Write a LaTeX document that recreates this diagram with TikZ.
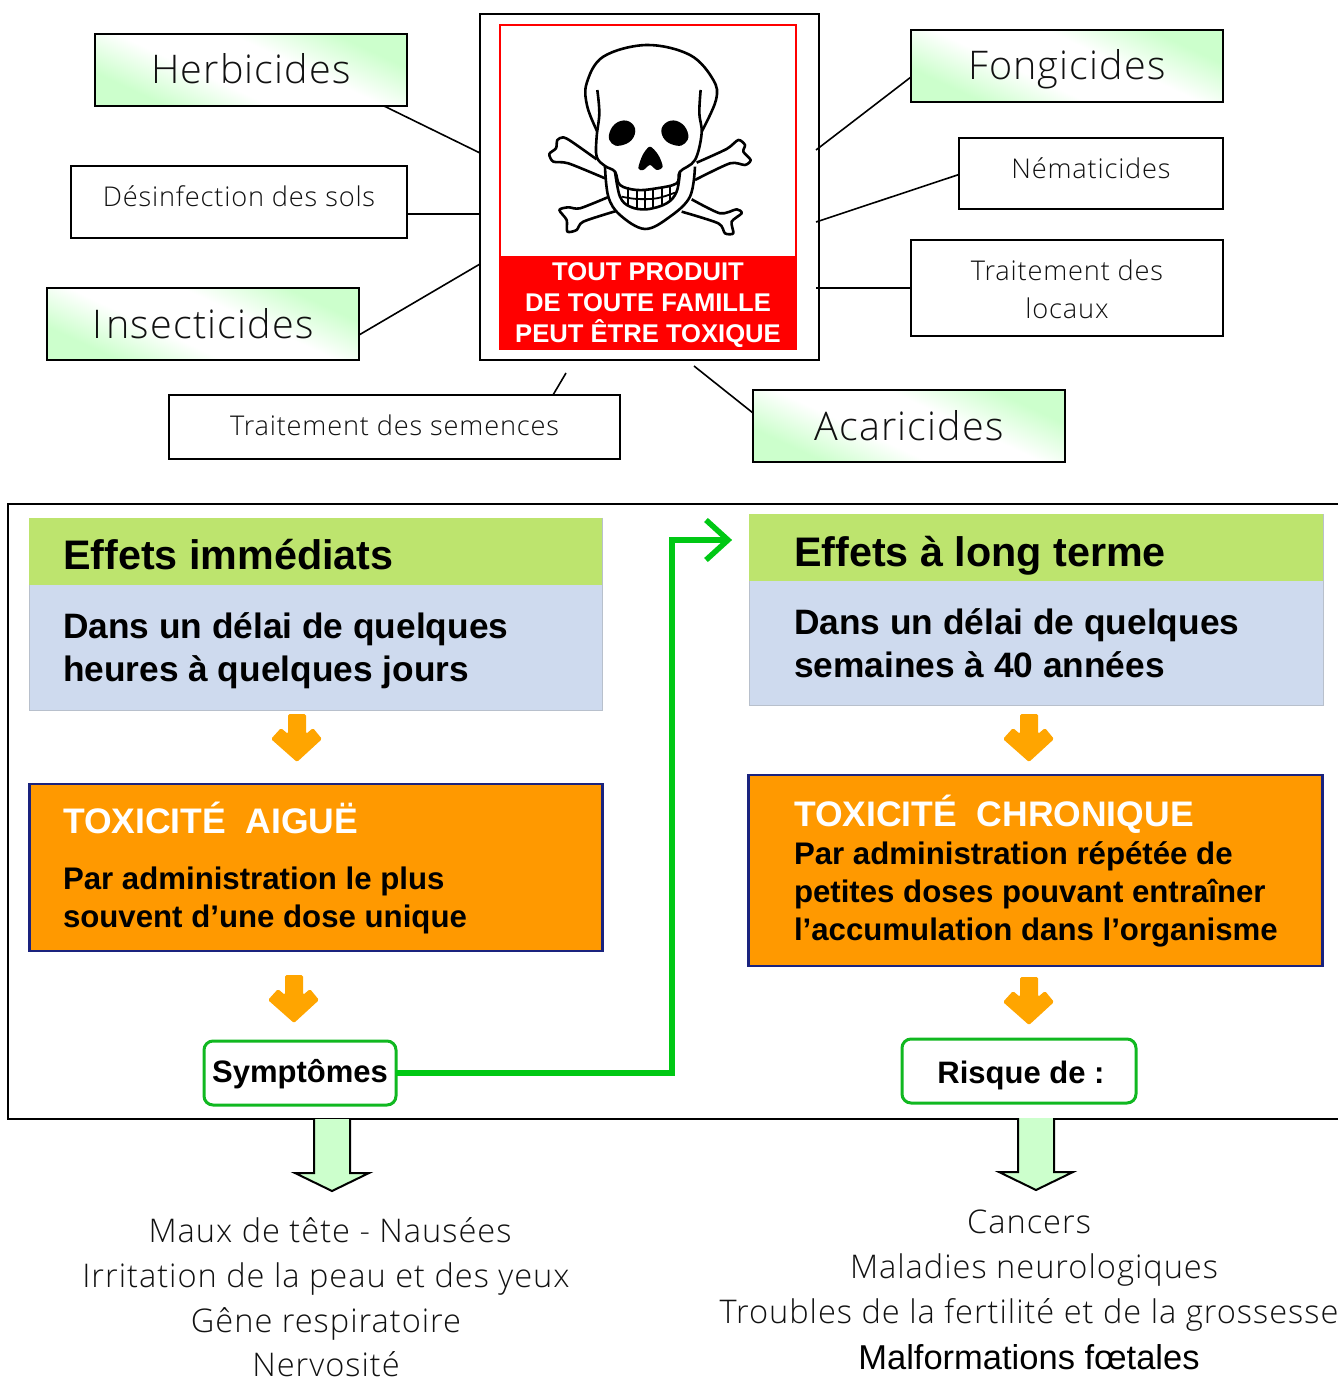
\documentclass[tikz,border=0pt]{standalone}
\usepackage{fontspec}
\setmainfont{Liberation Sans}
\newfontfamily\thinfont[LetterSpace=3]{Open Sans Light}
\usetikzlibrary{calc}
\definecolor{panelgreen}{HTML}{BDE46E}
\definecolor{panelblue}{HTML}{CEDAEE}
\definecolor{panelline}{HTML}{B8C0CC}
\definecolor{orangebox}{HTML}{FF9900}
\definecolor{navyline}{HTML}{1A237E}
\definecolor{arroworange}{HTML}{FFA500}
\definecolor{paleg}{HTML}{CCFFCC}
\definecolor{linkgreen}{HTML}{00C814}
\definecolor{boxgreen}{HTML}{10B820}
\definecolor{redsign}{HTML}{FF0000}
\definecolor{thintext}{HTML}{111111}
\pgfdeclarehorizontalshading{cornergrad}{100bp}{color(0bp)=(paleg);color(27bp)=(paleg);color(42bp)=(white);color(58bp)=(white);color(73bp)=(paleg);color(100bp)=(paleg)}
\tikzset{
  every node/.style={inner sep=0pt,outer sep=0pt},
  plainbox/.style={draw=black,line width=2pt,fill=white,rectangle,anchor=north west,align=center,text=thintext},
  gradbox/.style={plainbox,fill=none,shading=cornergrad,shading angle=65},
  link/.style={draw=black,line width=1.6pt},
  bigtxt/.style={font=\thinfont\fontsize{39.5}{39.5}\selectfont,text height=31pt,text depth=3pt},
  midtxt/.style={font=\thinfont\fontsize{27.2}{38}\selectfont},
  listtxt/.style={font=\thinfont\fontsize{32.6}{33}\selectfont,text=thintext,anchor=base},
  headtxt/.style={font=\bfseries\fontsize{41.3}{41.3}\selectfont,anchor=base west},
  subtxt/.style={font=\bfseries\fontsize{35.3}{43}\selectfont,anchor=west,align=left},
  toxhead/.style={font=\bfseries\fontsize{35.5}{35.5}\selectfont,anchor=west,text=white},
  toxtxt/.style={font=\bfseries\fontsize{31.2}{38}\selectfont,anchor=west,align=left},
  roundbox/.style={draw=boxgreen,line width=3pt,rounded corners=9pt,fill=white,anchor=north west,font=\bfseries\fontsize{31}{31}\selectfont},
  orangearrow/.style={fill=arroworange,draw=none,rounded corners=1.5pt},
  palearrow/.style={fill=paleg,draw=black,line width=2pt},
  bonestyle/.style={draw=black,line width=2.6pt,fill=white,line join=round},
}
\begin{document}
\begin{tikzpicture}[x=1pt,y=-1pt]
\useasboundingbox (0,0) rectangle (1338,1378);
% top: poster
\node[plainbox,minimum width=339pt,minimum height=346pt] (frame) at (480,14) {};
\node[draw=redsign,line width=2.6pt,fill=white,anchor=north west,minimum width=296pt,minimum height=324pt] (sign) at (500,25) {};
\node[fill=redsign,anchor=north west,minimum width=296pt,minimum height=94pt] (signband) at (500,255.5) {};
\node[text=white,align=center,font=\bfseries\fontsize{25.6}{31}\selectfont] (signtext) at (648,305) {TOUT PRODUIT\\DE TOUTE FAMILLE\\PEUT ÊTRE TOXIQUE};
\begin{scope}[shift={(480,0)},x=0.3333pt,y=-0.3333pt]
  \draw[bonestyle] plot[smooth,tension=.45] coordinates {(350,478)(275,425)(250,412)(232,420)(228,445)(208,462)(220,485)(265,490)(375,535)};
  \draw[bonestyle] plot[smooth,tension=.45] coordinates {(650,488)(740,447)(775,420)(795,435)(790,455)(812,480)(795,495)(750,490)(645,540)};
  \draw[bonestyle] plot[smooth,tension=.45] coordinates {(383,592)(300,625)(265,622)(238,630)(260,660)(262,695)(290,690)(310,665)(412,632)};
  \draw[bonestyle] plot[smooth,tension=.45] coordinates {(635,598)(720,640)(770,628)(785,640)(755,665)(760,700)(735,700)(715,670)(605,635)};
  % jaw
  \draw[bonestyle] plot[smooth,tension=.6] coordinates {(375,500)(385,590)(420,645)(495,687)(570,650)(630,590)(645,500)};
  % cranium
  \draw[bonestyle] plot[smooth,tension=.6] coordinates {(352,395)(322,320)(320,250)(370,170)(500,135)(630,165)(700,240)(708,300)(665,395)};
  \draw[bonestyle] plot[smooth,tension=.6] coordinates {(352,270)(358,340)(350,410)(350,470)(375,498)(405,515)(420,555)(470,570)(530,565)(590,550)(600,515)(645,480)(665,400)(658,340)(662,270)};
  % lower teeth
  \draw[bonestyle,fill=none] plot[smooth,tension=.6] coordinates {(405,515)(420,590)(450,620)(500,628)(560,610)(590,575)(600,515)};
  \draw[black,line width=1.8pt] plot[smooth,tension=.6] coordinates {(425,590)(470,597)(530,595)(585,578)};
  \foreach \tx/\ta/\tb in {445/560/618,470/570/625,495/570/628,520/568/626,545/563/618,570/557/605}
    \draw[black,line width=1.8pt] (\tx,\ta) -- (\tx,\tb);
  % eyes and nose
  \fill[black] plot[smooth cycle,tension=.7] coordinates {(387,405)(405,372)(440,362)(465,385)(455,420)(420,437)(395,430)};
  \fill[black] plot[smooth cycle,tension=.7] coordinates {(625,405)(607,372)(572,362)(545,385)(555,420)(590,437)(615,430)};
  \fill[black] plot[smooth cycle,tension=.5] coordinates {(475,505)(490,510)(510,495)(530,510)(548,500)(535,465)(510,440)(488,465)};
\end{scope}
% satellite boxes
\node[gradbox,bigtxt,minimum width=312pt,minimum height=72pt] (herb) at (95,34) {Herbicides};
\node[plainbox,midtxt,text height=12pt,text depth=3pt,minimum width=336pt,minimum height=72pt] (desinf) at (71,166) {Désinfection des sols};
\node[gradbox,bigtxt,minimum width=312pt,minimum height=72pt] (insect) at (47,288) {I\kern4pt nsecticides};
\node[plainbox,midtxt,text height=20pt,text depth=3pt,minimum width=451pt,minimum height=64pt] (semences) at (169,395) {Traitement des semences};
\node[gradbox,bigtxt,minimum width=312pt,minimum height=72pt] (fong) at (911,30) {Fongicides};
\node[plainbox,midtxt,text height=12pt,text depth=3pt,minimum width=264pt,minimum height=71pt] (nemat) at (959,138) {Nématicides};
\node[plainbox,midtxt,minimum width=312pt,minimum height=96pt] (locaux) at (911,240) {\rule{0pt}{24pt}Traitement des\\locaux};
\node[gradbox,bigtxt,minimum width=312pt,minimum height=72pt] (acar) at (753,390) {Acaricides};
% connectors
\draw[link] ($(herb.south east)+(-23,0)$) -- ($(frame.north west)+(0,139)$);
\draw[link] ($(desinf.south east)+(0,-24)$) -- ($(frame.north west)+(0,200)$);
\draw[link] ($(insect.south east)+(0,-25)$) -- ($(frame.north west)+(0,250)$);
\draw[link] ($(semences.north west)+(384,0)$) -- ($(semences.north west)+(397,-22)$);
\draw[link] ($(fong.south west)+(0,-25)$) -- ($(frame.north east)+(-3,136)$);
\draw[link] ($(nemat.west)+(0,1)$) -- ($(frame.north east)+(-3,208)$);
\draw[link] (locaux.west) -- ($(frame.north east)+(-3,274)$);
\draw[link] ($(acar.north west)+(0,23)$) -- ($(frame.south west)+(214,6)$);
% lower frame
\draw[black,line width=2.4pt] (1338,504) -- (8,504) -- (8,1119) -- (1338,1119);
% left column
\node[fill=panelblue,draw=panelline,line width=1pt,anchor=north west,minimum width=573pt,minimum height=192pt] (leftpanel) at (29,518) {};
\node[fill=panelgreen,anchor=north west,minimum width=573pt,minimum height=67pt] (lefthead) at (29,518) {};
\node[headtxt] (lh) at (63,569.5) {Effets immédiats};
\node[subtxt] (ls) at (63,651) {Dans un délai de quelques\\heures à quelques jours};
\node[fill=orangebox,draw=navyline,line width=2.6pt,anchor=north west,minimum width=573pt,minimum height=167pt] (leftorange) at (29.5,784) {};
\node[toxhead] (lo1) at (63,818) {TOXICITÉ\ \ AIGUË};
\node[toxtxt] (lo2) at (63,900) {Par administration le plus\\souvent d’une dose unique};
\node[roundbox,text height=24pt,text depth=6pt,minimum width=192pt,minimum height=64pt] (sympt) at (204,1041) {Symptômes};
% right column
\node[fill=panelblue,draw=panelline,line width=1pt,anchor=north west,minimum width=574pt,minimum height=191pt] (rightpanel) at (749,514) {};
\node[fill=panelgreen,anchor=north west,minimum width=574pt,minimum height=67pt] (righthead) at (749,514) {};
\node[headtxt] (rh) at (794,566) {Effets à long terme};
\node[subtxt] (rs) at (794,643) {Dans un délai de quelques\\semaines à 40 années};
\node[fill=orangebox,draw=navyline,line width=2.6pt,anchor=north west,minimum width=574pt,minimum height=191pt] (rightorange) at (748.5,775) {};
\node[toxhead] (ro1) at (794,814.5) {TOXICITÉ\ \ CHRONIQUE};
\node[toxtxt] (ro2) at (794,894.5) {Par administration répétée de\\petites doses pouvant entraîner\\l’accumulation dans l’organisme};
\node[roundbox,text height=28pt,text depth=4pt,minimum width=234pt,minimum height=64pt] (risque) at (902,1039) {\hspace*{4pt}Risque de :};
% green link
\coordinate (arrowtip) at (728,540);
\draw[linkgreen,line width=5.5pt,line join=miter] (sympt.east) -| (672,540) -- (arrowtip);
\draw[linkgreen,line width=5.5pt,line cap=butt] (706,520) -- (arrowtip) -- (706,560);
% orange arrows
\foreach \cx/\cy in {297/714,294/975,1029/714,1029/977}
  \fill[orangearrow,shift={(\cx,\cy)}] (-9,0) -- (9,0) -- (9,20) -- (16,14) -- (25,25) -- (0,48) -- (-26,25) -- (-16,14) -- (-9,20) -- cycle;
% pale arrows
\foreach \cx/\cy in {332/1119,1036/1118}
  \draw[palearrow,shift={(\cx,\cy)}] (-18,0) -- (-18,54) -- (-37,54) -- (0,72) -- (37,54) -- (18,54) -- (18,0);
% lists
\node[listtxt] (l1) at (330,1242) {Maux de tête - Nausées};
\node[listtxt] (l2) at (326,1287) {Irritation de la peau et des yeux};
\node[listtxt] (l3) at (326,1332) {Gêne respiratoire};
\node[listtxt] (l4) at (326,1376) {Nervosité};
\node[listtxt] (r1) at (1029,1233) {Cancers};
\node[listtxt] (r2) at (1034,1278) {Maladies neurologiques};
\node[listtxt] (r3) at (1029,1323) {Troubles de la fertilité et de la grossesse};
\node[font=\fontsize{34.5}{35}\selectfont,anchor=base] (r4) at (1029,1369) {Malformations fœtales};
\end{tikzpicture}
\end{document}
